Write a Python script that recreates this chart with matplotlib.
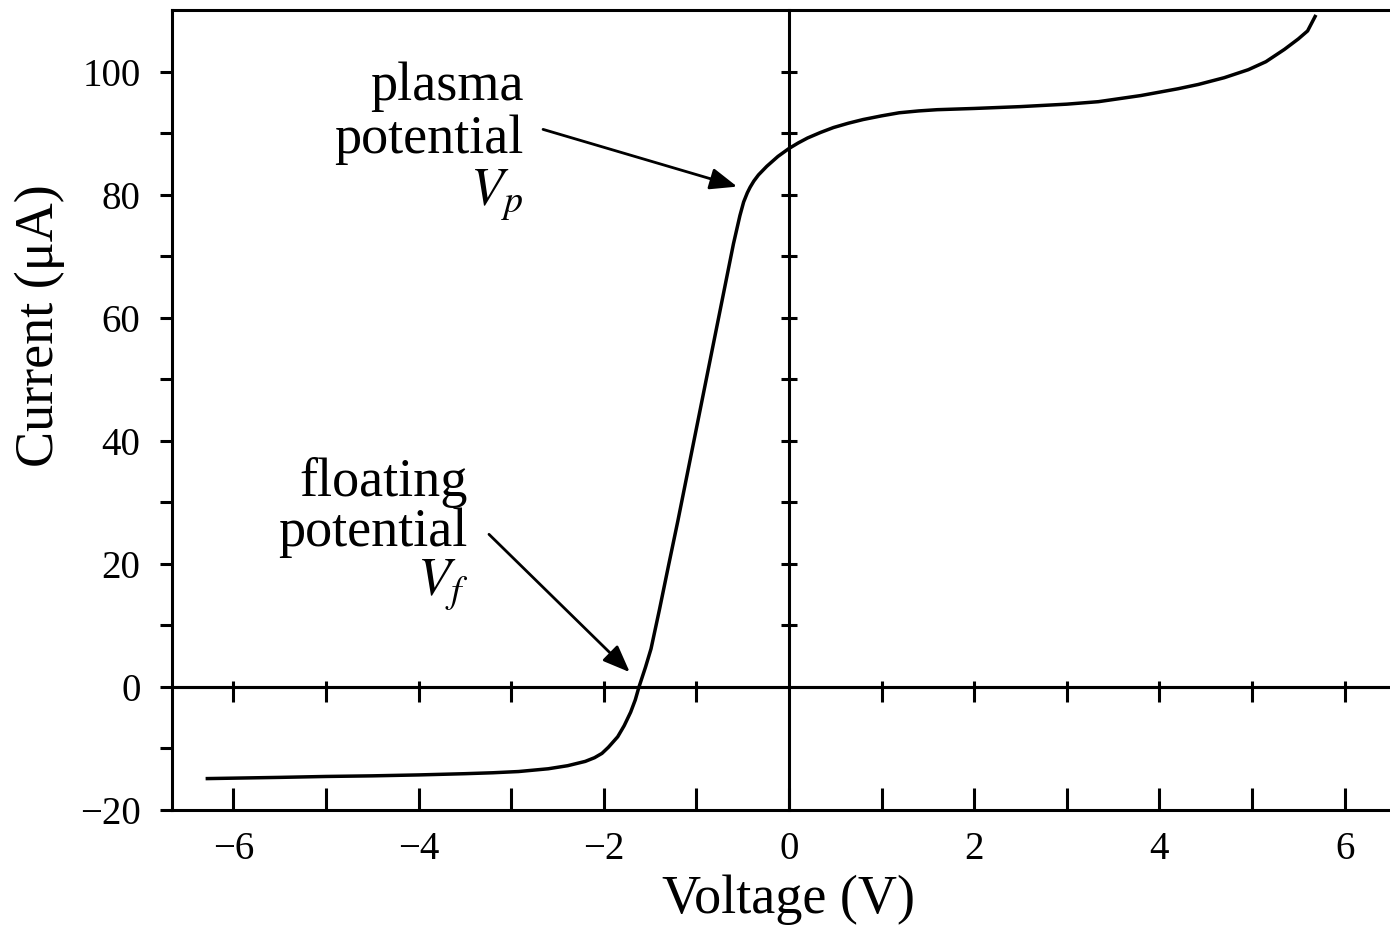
import numpy as np
import matplotlib
matplotlib.use("Agg")
import matplotlib.pyplot as plt

plt.rcParams['font.family'] = ['Liberation Serif', 'DejaVu Serif']
plt.rcParams['mathtext.fontset'] = 'stix'

# ---- data ----
voltage = [-6.3, -5.5, -5.0, -4.5, -4.0, -3.5, -3.2, -2.92, -2.6, -2.39, -2.2,
           -2.1, -2.02, -1.95, -1.85, -1.78, -1.71, -1.66, -1.62, -1.55, -1.49,
           -1.4, -1.3, -1.2, -1.1, -1.0, -0.9, -0.8, -0.7, -0.6, -0.53, -0.49,
           -0.45, -0.42, -0.38, -0.33, -0.24, -0.12, 0.0, 0.1, 0.2, 0.34, 0.48,
           0.64, 0.8, 1.0, 1.19, 1.4, 1.6, 2.0, 2.5, 3.0, 3.34, 3.8, 4.2, 4.42,
           4.7, 4.96, 5.15, 5.35, 5.5, 5.6, 5.69]
current = [-14.9, -14.7, -14.55, -14.45, -14.3, -14.1, -13.95, -13.75, -13.3,
           -12.8, -12.1, -11.5, -10.8, -9.8, -8.1, -6.3, -4.1, -2.1, 0.0, 3.2,
           6.2, 12.5, 19.8, 27.0, 34.5, 42.0, 49.5, 57.0, 64.5, 72.0, 76.6,
           78.8, 80.3, 81.2, 82.2, 83.2, 84.6, 86.2, 87.5, 88.4, 89.2, 90.1,
           90.9, 91.6, 92.2, 92.8, 93.3, 93.6, 93.8, 94.0, 94.3, 94.7, 95.1,
           96.1, 97.2, 97.9, 99.0, 100.3, 101.6, 103.6, 105.3, 106.6, 109.2]

x_major = [-6, -4, -2, 0, 2, 4, 6]
x_minor = [-5, -3, -1, 1, 3, 5]
x_center = [-6, -5, -4, -3, -2, -1, 1, 2, 3, 4, 5, 6]
y_major = [-20, 0, 20, 40, 60, 80, 100]
y_minor = [-10, 10, 30, 50, 70, 90]
y_center = [10, 20, 30, 40, 50, 60, 70, 80, 90, 100]

vp_label = ["plasma", "potential", "$V_p$"]
vf_label = ["floating", "potential", "$V_f$"]
vp_arrow = ((-2.656, 90.6), (-0.56, 81.3))
vf_arrow = ((-3.24, 24.8), (-1.72, 2.4))


def fmt(v):
    return f"{v}".replace("-", "\u2212")


W, H = 1390, 925
fig = plt.figure(figsize=(13.9, 9.25), dpi=100)
rect = [172 / W, (H - 810) / H, 1 - 172 / W, 800 / H]
xlim = (-6.663, 6.49)
ylim = (-20, 110)

LW = 2.2
ax = fig.add_axes(rect)
ax.set_xlim(*xlim)
ax.set_ylim(*ylim)
for s in ['top', 'left', 'bottom']:
    ax.spines[s].set_linewidth(LW)
ax.spines['right'].set_visible(False)

ax.set_xticks(x_major)
ax.set_xticks(x_minor, minor=True)
ax.set_xticklabels([fmt(v) for v in x_major])
ax.set_yticks(y_major)
ax.set_yticks(y_minor, minor=True)
ax.set_yticklabels([fmt(v) for v in y_major])
ax.tick_params(axis='x', which='both', direction='in', length=16, width=LW,
               labelsize=28, pad=15, top=False)
ax.tick_params(axis='y', which='both', direction='out', length=8.6, width=LW,
               labelsize=28, pad=14, right=False)

ax.plot(voltage, current, color='black', lw=2.5, solid_capstyle='butt',
        solid_joinstyle='round', zorder=5)

ax.set_xlabel("Voltage (V)", fontsize=39)
ax.xaxis.set_label_coords(0.506, -0.081)
ax.set_ylabel("Current (μA)", fontsize=39)
ax.yaxis.set_label_coords(-0.088, 0.605)

# centre cross lines (axes through the origin)
ax2 = fig.add_axes(rect)
ax2.set_xlim(*xlim)
ax2.set_ylim(*ylim)
ax2.patch.set_visible(False)
for s in ['top', 'right']:
    ax2.spines[s].set_visible(False)
ax2.spines['left'].set_position(('data', 0))
ax2.spines['bottom'].set_position(('data', 0))
ax2.spines['left'].set_linewidth(LW)
ax2.spines['bottom'].set_linewidth(LW)
ax2.xaxis.set_ticks_position('bottom')
ax2.yaxis.set_ticks_position('left')
ax2.set_xticks(x_center)
ax2.set_yticks(y_center)
ax2.tick_params(axis='x', direction='out', length=10.5, width=LW, labelbottom=False)
ax2.tick_params(axis='y', direction='inout', length=11.5, width=LW, labelleft=False)

ax3 = fig.add_axes(rect)
ax3.set_xlim(*xlim)
ax3.set_ylim(*ylim)
ax3.patch.set_visible(False)
for s in ['bottom', 'right', 'left']:
    ax3.spines[s].set_visible(False)
ax3.spines['top'].set_position(('data', 0))
ax3.spines['top'].set_linewidth(LW)
ax3.xaxis.set_ticks_position('top')
ax3.yaxis.set_visible(False)
ax3.set_xticks(x_center)
ax3.tick_params(axis='x', direction='out', length=4.5, width=LW, labeltop=False)

# annotations
def put_label(lines, xr, baselines):
    for t, yb in zip(lines, baselines):
        ax.text(xr, yb, t, fontsize=39, ha='right', va='baseline')

put_label(vp_label, -2.87, [95.4, 86.8, 78.2])
put_label(vf_label, -3.47, [31.0, 22.9, 14.8])

arrowprops = dict(arrowstyle='-|>,head_length=0.55,head_width=0.22',
                  mutation_scale=30, lw=2.0, color='black',
                  shrinkA=0, shrinkB=0)
ax.annotate('', xy=vp_arrow[1], xytext=vp_arrow[0], arrowprops=arrowprops)
ax.annotate('', xy=vf_arrow[1], xytext=vf_arrow[0], arrowprops=arrowprops)

fig.savefig("out.png", dpi=100)
